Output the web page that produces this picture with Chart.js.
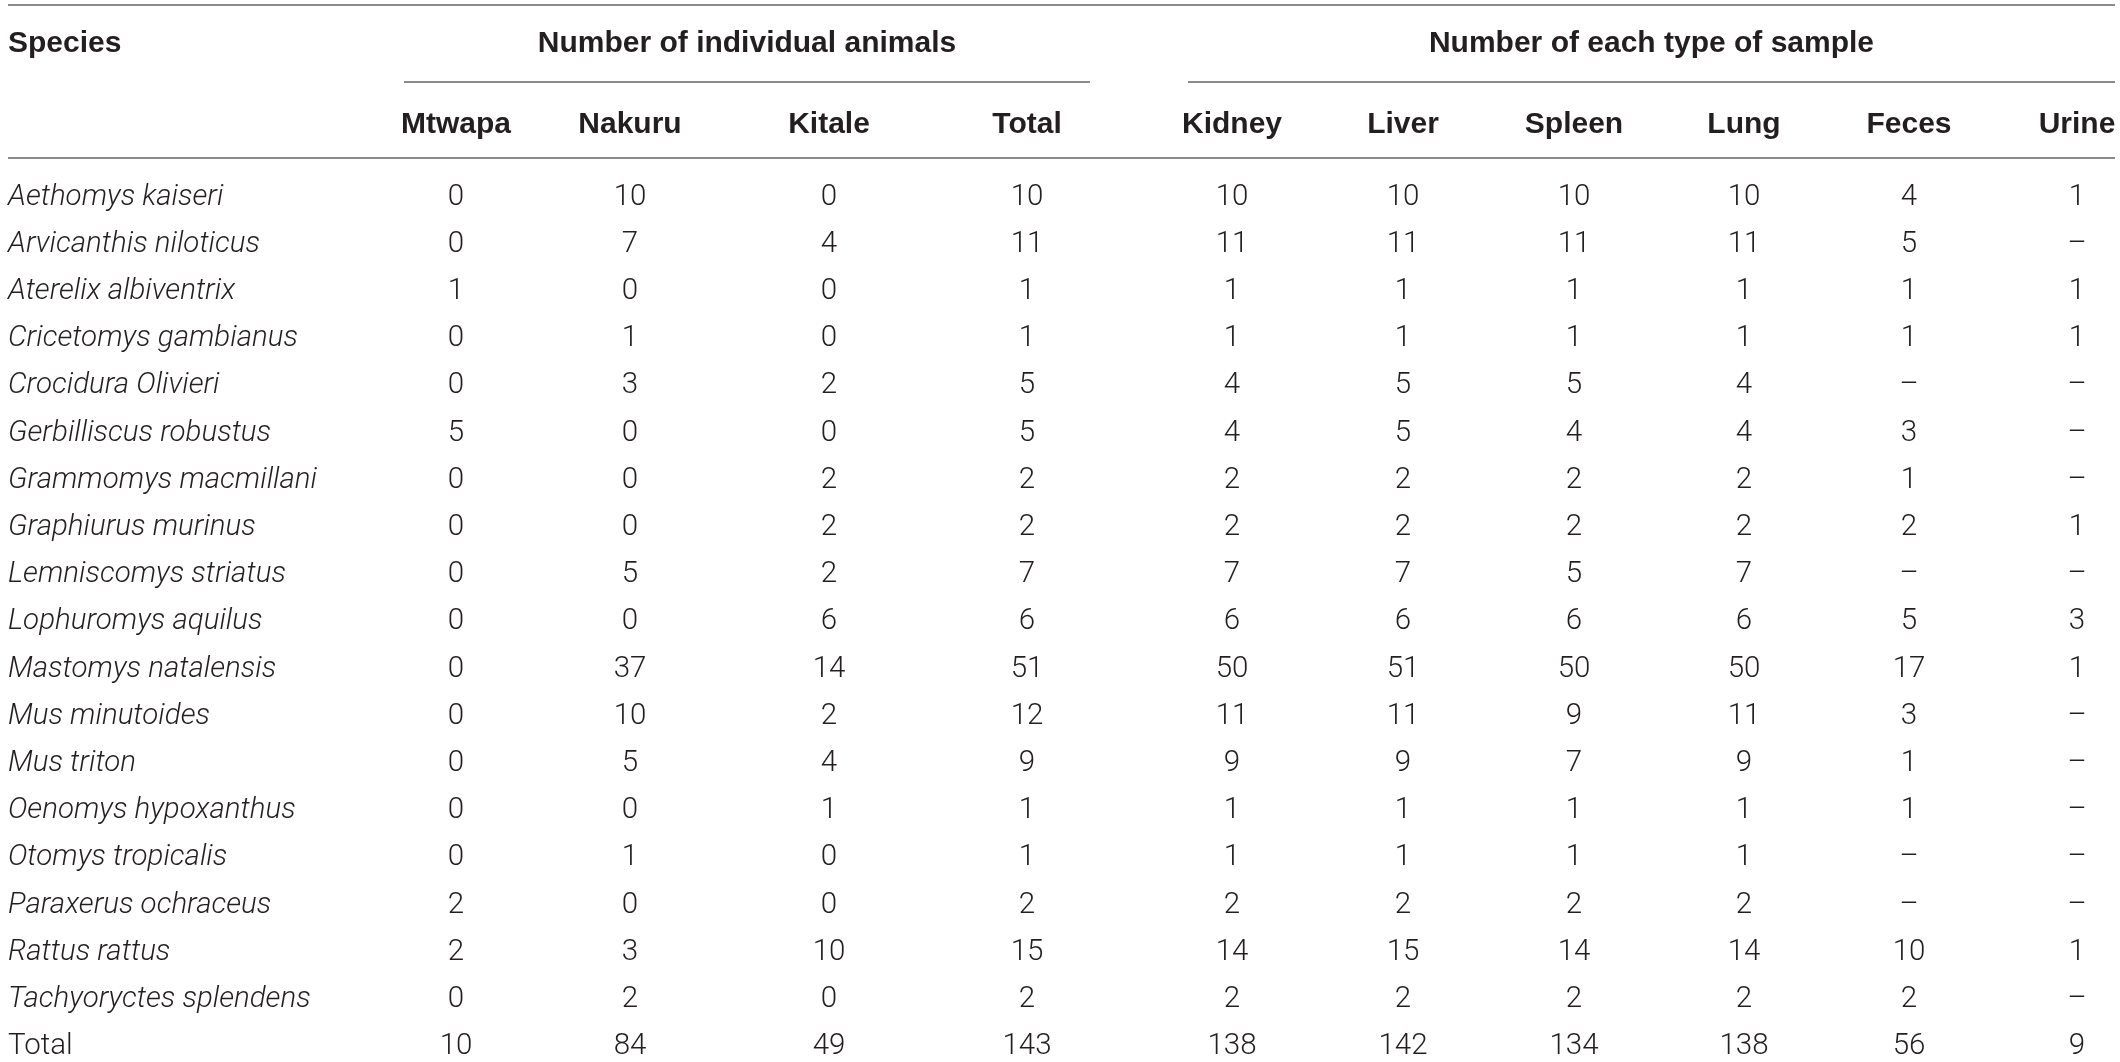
<!DOCTYPE html>
<html>
<head>
<meta charset="utf-8">
<script src="https://cdn.jsdelivr.net/npm/chart.js@4.4.1/dist/chart.umd.min.js"></script>
<style>
  html, body { margin: 0; padding: 0; background: #fff; }
  #wrap { width: 2120px; height: 1062px; }
</style>
</head>
<body>
<div id="wrap"><canvas id="tbl" width="2120" height="1062"></canvas></div>
<script>
// table content
const species = [
  'Aethomys kaiseri', 'Arvicanthis niloticus', 'Aterelix albiventrix', 'Cricetomys gambianus',
  'Crocidura Olivieri', 'Gerbilliscus robustus', 'Grammomys macmillani', 'Graphiurus murinus',
  'Lemniscomys striatus', 'Lophuromys aquilus', 'Mastomys natalensis', 'Mus minutoides',
  'Mus triton', 'Oenomys hypoxanthus', 'Otomys tropicalis', 'Paraxerus ochraceus',
  'Rattus rattus', 'Tachyoryctes splendens'
];
const groups = ['Number of individual animals', 'Number of each type of sample'];
const columns = ['Mtwapa', 'Nakuru', 'Kitale', 'Total', 'Kidney', 'Liver', 'Spleen', 'Lung', 'Feces', 'Urine'];

const mtwapa = [0, 0, 1, 0, 0, 5, 0, 0, 0, 0, 0, 0, 0, 0, 0, 2, 2, 0];
const nakuru = [10, 7, 0, 1, 3, 0, 0, 0, 5, 0, 37, 10, 5, 0, 1, 0, 3, 2];
const kitale = [0, 4, 0, 0, 2, 0, 2, 2, 2, 6, 14, 2, 4, 1, 0, 0, 10, 0];
const total  = [10, 11, 1, 1, 5, 5, 2, 2, 7, 6, 51, 12, 9, 1, 1, 2, 15, 2];
const kidney = [10, 11, 1, 1, 4, 4, 2, 2, 7, 6, 50, 11, 9, 1, 1, 2, 14, 2];
const liver  = [10, 11, 1, 1, 5, 5, 2, 2, 7, 6, 51, 11, 9, 1, 1, 2, 15, 2];
const spleen = [10, 11, 1, 1, 5, 4, 2, 2, 5, 6, 50, 9, 7, 1, 1, 2, 14, 2];
const lung   = [10, 11, 1, 1, 4, 4, 2, 2, 7, 6, 50, 11, 9, 1, 1, 2, 14, 2];
const feces  = [4, 5, 1, 1, null, 3, 1, 2, null, 5, 17, 3, 1, 1, null, null, 10, 2];
const urine  = [1, null, 1, 1, null, null, null, 1, null, 3, 1, null, null, null, null, null, 1, null];
const totalRow = [10, 84, 49, 143, 138, 142, 134, 138, 56, 9];

const colValues = [mtwapa, nakuru, kitale, total, kidney, liver, spleen, lung, feces, urine];

// layout (x in pixels of the x scale, y in row units of the y scale)
const colX = [456, 630, 829, 1027, 1232, 1403, 1574, 1744, 1909, 2077];
const leftX = 8, rightX = 2115;
const groupSpan = [[404, 1090], [1188, 2115]];
const yGroup = -3.23, ySub = -1.515;
const lineTop = -4.227, lineGroup = -2.595, lineHead = -0.985;

const ink = '#231f20';
const rule = '#8a8a8a';
const bodyFont = '300 29.5px Roboto, "Liberation Sans", sans-serif';
const italicFont = 'italic 300 29.5px Roboto, "Liberation Sans", sans-serif';
const headFont = 'bold 30px "Liberation Sans", Arial, sans-serif';

const nRows = species.length;
const datasets = [];
// species name column
datasets.push({
  label: 'Species',
  align: 'left',
  data: species.concat(['Total']).map((s, i) => ({ x: leftX, y: i, v: s, it: i < nRows })),
  pointRadius: 0
});
columns.forEach((c, j) => {
  const vals = colValues[j].concat([totalRow[j]]);
  datasets.push({
    label: c,
    align: 'center',
    data: vals.map((v, i) => ({ x: colX[j], y: i, v: v === null ? '\u2013' : String(v), it: false })),
    pointRadius: 0
  });
});

const tablePlugin = {
  id: 'tableText',
  afterDatasetsDraw(chart) {
    const ctx = chart.ctx;
    const xs = chart.scales.x, ys = chart.scales.y;
    ctx.save();
    ctx.textBaseline = 'alphabetic';
    ctx.fillStyle = ink;

    // rules
    ctx.strokeStyle = rule;
    ctx.lineWidth = 2;
    const hline = (x0, x1, yv) => {
      const y = Math.round(ys.getPixelForValue(yv));
      ctx.beginPath();
      ctx.moveTo(xs.getPixelForValue(x0), y);
      ctx.lineTo(xs.getPixelForValue(x1), y);
      ctx.stroke();
    };
    hline(leftX, rightX, lineTop);
    hline(leftX, rightX, lineHead);
    groupSpan.forEach(g => hline(g[0], g[1], lineGroup));

    // header
    ctx.font = headFont;
    ctx.textAlign = 'left';
    ctx.fillText('Species', xs.getPixelForValue(leftX), ys.getPixelForValue(yGroup));
    ctx.textAlign = 'center';
    groups.forEach((g, k) => {
      const cx = (xs.getPixelForValue(groupSpan[k][0]) + xs.getPixelForValue(groupSpan[k][1])) / 2;
      ctx.fillText(g, cx, ys.getPixelForValue(yGroup));
    });
    columns.forEach((c, j) => {
      ctx.fillText(c, xs.getPixelForValue(colX[j]), ys.getPixelForValue(ySub));
    });

    // cells, placed at the point elements
    chart.data.datasets.forEach((ds, di) => {
      const meta = chart.getDatasetMeta(di);
      ctx.textAlign = ds.align;
      meta.data.forEach((el, k) => {
        const d = ds.data[k];
        ctx.font = d.it ? italicFont : bodyFont;
        ctx.fillText(d.v, el.x, el.y);
      });
    });
    ctx.restore();
  }
};

new Chart(document.getElementById('tbl'), {
  type: 'scatter',
  data: { datasets: datasets },
  options: {
    responsive: false,
    animation: false,
    layout: { padding: 0 },
    events: [],
    scales: {
      x: { type: 'linear', display: false, min: 0, max: 2120 },
      y: { type: 'linear', display: false, reverse: true, min: -4.333, max: 18.167 }
    },
    plugins: {
      legend: { display: false },
      tooltip: { enabled: false },
      title: { display: false }
    }
  },
  plugins: [tablePlugin]
});
</script>
</body>
</html>
